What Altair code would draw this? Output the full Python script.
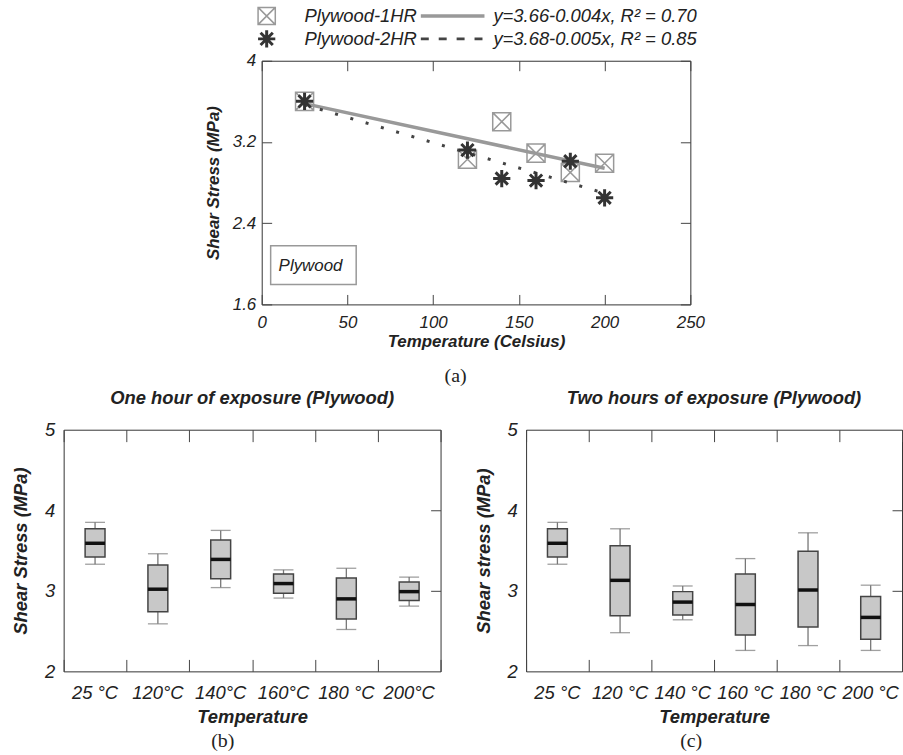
import altair as alt
import pandas as pd

# ---------------- data ----------------
temps = [25, 120, 140, 160, 180, 200]
stress_1hr = [3.60, 3.03, 3.40, 3.09, 2.90, 2.99]
stress_2hr = [3.60, 3.12, 2.84, 2.82, 3.01, 2.65]

legend_names = ["Plywood-1HR", "Plywood-2HR"]
legend_eqs = ["y=3.66-0.004x, R² = 0.70", "y=3.68-0.005x, R² = 0.85"]
box_label = ["Plywood"]

x_ticks_a = [0, 50, 100, 150, 200, 250]
y_ticks_a = [1.6, 2.4, 3.2, 4.0]
y_ticks_box = [2, 3, 4, 5]

cats_b = ["25 °C", "120°C", "140°C", "160°C", "180 °C", "200°C"]
b_low = [3.33, 2.59, 3.04, 2.91, 2.52, 2.81]
b_q1 = [3.42, 2.74, 3.15, 2.97, 2.65, 2.88]
b_med = [3.59, 3.02, 3.39, 3.09, 2.90, 2.99]
b_q3 = [3.77, 3.32, 3.63, 3.21, 3.16, 3.11]
b_high = [3.85, 3.46, 3.75, 3.26, 3.28, 3.17]

cats_c = ["25 °C", "120 °C", "140 °C", "160 °C", "180 °C", "200 °C"]
c_low = [3.33, 2.48, 2.64, 2.26, 2.32, 2.26]
c_q1 = [3.42, 2.69, 2.70, 2.45, 2.55, 2.40]
c_med = [3.59, 3.13, 2.86, 2.83, 3.01, 2.67]
c_q3 = [3.77, 3.56, 2.99, 3.21, 3.49, 2.93]
c_high = [3.85, 3.77, 3.06, 3.40, 3.72, 3.07]

FONT = "Liberation Sans"
SERIF = "Liberation Serif"
TXT = "#222222"
SQUARE_X = "M-1,-1L1,-1L1,1L-1,1Z M-1,-1L1,1 M1,-1L-1,1"
STAR = "M-1,0L1,0 M0,-1L0,1 M-0.71,-0.71L0.71,0.71 M-0.71,0.71L0.71,-0.71"


def label_axis(orient, values, title, fs, lpad, tpad, fmt=None):
    kw = dict(orient=orient, ticks=False, tickSize=0, domain=False,
              grid=False, labelFont=FONT, labelFontStyle="italic", labelFontSize=fs,
              labelColor=TXT, labelPadding=lpad, labelFlush=False, labelOverlap=False,
              title=title, titleFont=FONT, titleFontStyle="italic", titleFontWeight="bold",
              titleFontSize=fs, titleColor=TXT, titlePadding=tpad)
    if values is not None:
        kw["values"] = values
    if fmt:
        kw["format"] = fmt
    if orient == "bottom":
        kw["labelAngle"] = 0
    return alt.Axis(**kw)


def tick_axis(orient, values=None, size=10, band=False):
    kw = dict(orient=orient, labels=False, domain=False, grid=False, title=None,
              tickSize=size, offset=-size, tickColor="#444", tickWidth=1)
    if values is not None:
        kw["values"] = values
    if band:
        kw["tickBand"] = "extent"
    return alt.Axis(**kw)


# ---------------- panel (a) ----------------
df1 = pd.DataFrame({"temp": temps, "stress": stress_1hr})
df2 = pd.DataFrame({"temp": temps, "stress": stress_2hr})
xs_a = alt.Scale(domain=[0, 250], nice=False, zero=False)
ys_a = alt.Scale(domain=[1.6, 4.0], nice=False, zero=False)


def xa(axis):
    return alt.X("temp:Q", scale=xs_a, axis=axis)


def ya(axis):
    return alt.Y("stress:Q", scale=ys_a, axis=axis)


squares = alt.Chart(df1).mark_point(
    shape=SQUARE_X, size=330, filled=True, fill="white", stroke="#999999",
    strokeWidth=1.5, opacity=1
).encode(
    x=xa(label_axis("bottom", x_ticks_a, "Temperature (Celsius)", 17, 10, 3)),
    y=ya(label_axis("left", y_ticks_a, "Shear Stress (MPa)", 17, 6, 10, fmt="~g")),
)
line1 = alt.Chart(df1).transform_regression("temp", "stress").mark_line(
    color="#999999", strokeWidth=3.5
).encode(x=xa(None), y=ya(None))
line2 = alt.Chart(df2).transform_regression("temp", "stress").mark_line(
    color="#444444", strokeWidth=3, strokeDash=[3, 13]
).encode(x=xa(None), y=ya(None))
stars = alt.Chart(df2).mark_point(
    shape=STAR, size=300, filled=False, stroke="#333333", strokeWidth=3, opacity=1
).encode(x=xa(None), y=ya(None))
ticks_a1 = alt.Chart(df1).mark_point(opacity=0).encode(
    x=xa(tick_axis("bottom", x_ticks_a)), y=ya(tick_axis("left", y_ticks_a)))
ticks_a2 = alt.Chart(df1).mark_point(opacity=0).encode(
    x=xa(tick_axis("top", x_ticks_a)), y=ya(tick_axis("right", y_ticks_a)))

leg_layers = []
row_y = [-45, -22]
for i in range(2):
    if i == 0:
        sym = alt.Chart(pd.DataFrame({"k": [i]})).mark_point(
            shape=SQUARE_X, size=300, filled=True, fill="white", stroke="#999999",
            strokeWidth=1.5, opacity=1)
    else:
        sym = alt.Chart(pd.DataFrame({"k": [i]})).mark_point(
            shape=STAR, size=300, filled=False, stroke="#333333", strokeWidth=3, opacity=1)
    sym = sym.encode(x=alt.value(5), y=alt.value(row_y[i]))
    name = alt.Chart(pd.DataFrame({"t": [legend_names[i]]})).mark_text(
        align="left", baseline="middle", font=FONT, fontStyle="italic", fontSize=18.5,
        color=TXT).encode(x=alt.value(43), y=alt.value(row_y[i]), text="t:N")
    if i == 0:
        samp = alt.Chart(pd.DataFrame({"k": [i]})).mark_rule(
            color="#999999", strokeWidth=3.5)
    else:
        samp = alt.Chart(pd.DataFrame({"k": [i]})).mark_rule(
            color="#444444", strokeWidth=3, strokeDash=[8, 10])
    samp = samp.encode(x=alt.value(160), x2=alt.value(224), y=alt.value(row_y[i]))
    eq = alt.Chart(pd.DataFrame({"t": [legend_eqs[i]]})).mark_text(
        align="left", baseline="middle", font=FONT, fontStyle="italic", fontSize=18.5,
        color=TXT).encode(x=alt.value(233), y=alt.value(row_y[i]), text="t:N")
    leg_layers += [sym, name, samp, eq]

ply_box = alt.Chart(pd.DataFrame({"k": [0]})).mark_rect(
    fill="white", stroke="#999999", strokeWidth=1.5
).encode(x=alt.value(9), x2=alt.value(95), y=alt.value(186), y2=alt.value(225))
ply_text = alt.Chart(pd.DataFrame({"t": box_label})).mark_text(
    align="left", baseline="middle", font=FONT, fontStyle="italic", fontSize=17, color=TXT
).encode(x=alt.value(17), y=alt.value(206), text="t:N")
lab_a = alt.Chart(pd.DataFrame({"t": ["(a)"]})).mark_text(
    align="center", baseline="middle", font=SERIF, fontSize=20, color=TXT
).encode(x=alt.value(195), y=alt.value(317), text="t:N")

top = alt.layer(
    ticks_a1, ticks_a2, ply_box, ply_text, squares, line1, line2, stars, lab_a, *leg_layers
).resolve_axis(x="independent", y="independent").properties(width=431, height=245)


# ---------------- panels (b), (c) ----------------
def box_panel(cats, low, q1, med, q3, high, title, ytitle, tag, width, tagx):
    df = pd.DataFrame({"cat": cats, "low": low, "q1": q1, "med": med, "q3": q3, "high": high})
    xs = alt.Scale(domain=cats, paddingInner=0, paddingOuter=0)
    ys = alt.Scale(domain=[2, 5], nice=False, zero=False)

    def xb(axis):
        return alt.X("cat:N", scale=xs, sort=cats, axis=axis)

    base = alt.Chart(df)
    whisk = base.mark_rule(color="#777777", strokeWidth=1.3).encode(
        x=xb(label_axis("bottom", None, "Temperature", 18.5, 12, 6)),
        y=alt.Y("low:Q", scale=ys, axis=label_axis("left", y_ticks_box, ytitle, 18.5, 9, 14)),
        y2="high:Q")
    cap_lo = base.mark_tick(color="#777777", size=20, thickness=1.3).encode(
        x=xb(None), y=alt.Y("low:Q", scale=ys, axis=None))
    cap_hi = base.mark_tick(color="#777777", size=20, thickness=1.3).encode(
        x=xb(None), y=alt.Y("high:Q", scale=ys, axis=None))
    box = base.mark_bar(size=20, fill="#c8c8c8", stroke="#444444", strokeWidth=1.5).encode(
        x=xb(None), y=alt.Y("q1:Q", scale=ys, axis=None), y2="q3:Q")
    medl = base.mark_tick(color="#111111", size=20, thickness=3.5, opacity=1).encode(
        x=xb(None), y=alt.Y("med:Q", scale=ys, axis=None))
    t1 = base.mark_point(opacity=0).encode(
        x=xb(tick_axis("bottom", size=12, band=True)),
        y=alt.Y("med:Q", scale=ys, axis=None))
    t2 = base.mark_point(opacity=0).encode(
        x=xb(tick_axis("top", size=12, band=True)),
        y=alt.Y("med:Q", scale=ys, axis=tick_axis("right", [3, 4], size=10)))
    tagm = alt.Chart(pd.DataFrame({"t": [tag]})).mark_text(
        align="center", baseline="middle", font=SERIF, fontSize=20, color=TXT
    ).encode(x=alt.value(tagx), y=alt.value(313), text="t:N")
    return alt.layer(t1, t2, whisk, cap_lo, cap_hi, box, medl, tagm).resolve_axis(
        x="independent", y="independent"
    ).properties(
        width=width, height=243,
        title=alt.TitleParams(text=title, font=FONT, fontSize=18.5, fontStyle="italic",
                              fontWeight="bold", color=TXT, offset=13, anchor="middle"),
    )


pb = box_panel(cats_b, b_low, b_q1, b_med, b_q3, b_high,
               "One hour of exposure (Plywood)", "Shear Stress (MPa)", "(b)", 379, 160)
pc = box_panel(cats_c, c_low, c_q1, c_med, c_q3, c_high,
               "Two hours of exposure (Plywood)", "Shear stress (MPa)", "(c)", 378, 166)

bottom = alt.hconcat(pb, pc, spacing=32)

chart = alt.vconcat(top, bottom, spacing=2, center=True).properties(
    padding={"left": 11, "top": 1, "right": 0, "bottom": 0},
    background="white",
).configure_view(stroke="#333333", strokeWidth=1)

chart.save("out.html", embed_options={"renderer": "svg", "actions": False})
